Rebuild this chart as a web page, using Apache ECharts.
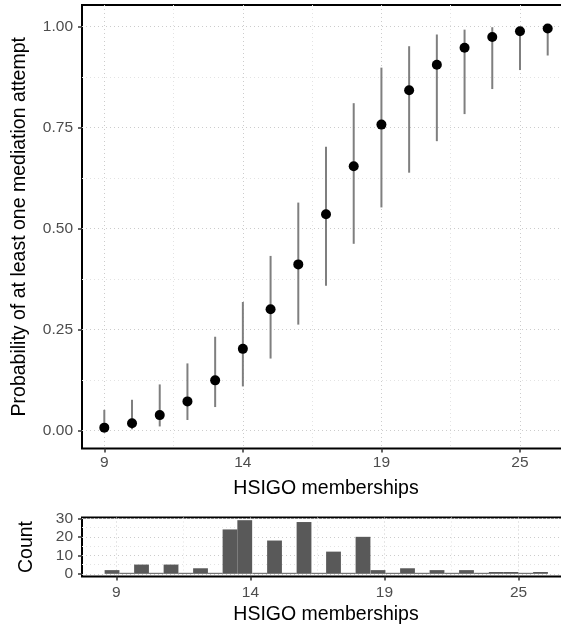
<!DOCTYPE html>
<html>
<head>
<meta charset="utf-8">
<script src="https://cdn.jsdelivr.net/npm/echarts@6/dist/echarts.min.js"></script>
<style>
html, body { margin: 0; padding: 0; background: #fff; }
#main { width: 561px; height: 628px; }
</style>
</head>
<body>
<div id="main"></div>
<script>
// predicted probability by number of memberships, with intervals
var memberships = [9, 10, 11, 12, 13, 14, 15, 16, 17, 18, 19, 20, 21, 22, 23, 24, 25];
var prob  = [0.007, 0.018, 0.038, 0.072, 0.124, 0.202, 0.300, 0.411, 0.535, 0.654, 0.757, 0.842, 0.905, 0.947, 0.974, 0.988, 0.995];
var lower = [0.001, 0.003, 0.010, 0.026, 0.058, 0.109, 0.178, 0.262, 0.358, 0.462, 0.552, 0.638, 0.716, 0.783, 0.845, 0.892, 0.928];
var upper = [0.051, 0.076, 0.114, 0.166, 0.232, 0.318, 0.432, 0.564, 0.702, 0.810, 0.898, 0.951, 0.980, 0.992, 0.998, 0.999, 1.000];

// histogram bins (centres) and counts
var binCenters = [8.84, 9.39, 9.94, 10.49, 11.04, 11.59, 12.14, 12.69, 13.24, 13.79,
                  14.35, 14.90, 15.45, 16.00, 16.55, 17.10, 17.65, 18.20, 18.76, 19.31,
                  19.86, 20.41, 20.96, 21.51, 22.06, 22.62, 23.17, 23.72, 24.27, 24.82];
var counts = [2, 0, 5, 0, 5, 0, 3, 0, 24, 29,
              0, 18, 0, 28, 0, 12, 0, 20, 2, 0,
              3, 0, 2, 0, 2, 0, 1, 1, 0, 1];

// tick positions and labels
var xTicks = [9, 14, 19, 24];
var xTickLabels = ['9', '14', '19', '25'];
var xMinor = [11.5, 16.5, 21.5];
var probTicks = [0, 0.25, 0.5, 0.75, 1];
var probTickLabels = ['0.00', '0.25', '0.50', '0.75', '1.00'];
var probMinor = [0.125, 0.375, 0.625, 0.875];
var countTicks = [0, 10, 20, 30];
var countMinor = [5, 15, 25];

var FONT = 'Liberation Sans, Arial, Helvetica, sans-serif';
var tickLabel = { color: '#4d4d4d', fontSize: 15.5, fontFamily: FONT };
var titleText = { color: '#000', fontSize: 19.5, fontFamily: FONT };
var majorGrid = { show: true, lineStyle: { color: '#cccccc', width: 1, type: [1, 3] } };
var minorGrid = { show: true, lineStyle: { color: '#e3e3e3', width: 1, type: [1, 3] } };
var tick = { show: true, length: 4, lineStyle: { color: '#333', width: 1.5 } };
var noLine = { show: false, onZero: false };

function xLabel(v) {
  var i = xTicks.indexOf(v);
  return i < 0 ? '' : xTickLabels[i];
}
function probLabel(v) {
  var i = probTicks.indexOf(v);
  return i < 0 ? '' : probTickLabels[i];
}

// main (visible) axis + a hidden one carrying the minor grid lines
function mainX(grid, min, max, margin, gap) {
  return {
    type: 'value', gridIndex: grid, min: min, max: max, position: 'bottom',
    name: 'HSIGO memberships', nameLocation: 'middle', nameGap: gap, nameTextStyle: titleText,
    axisLine: noLine,
    axisTick: Object.assign({ customValues: xTicks }, tick),
    axisLabel: Object.assign({ customValues: xTicks, formatter: xLabel, margin: margin }, tickLabel),
    splitLine: majorGrid
  };
}
function minorX(grid, min, max) {
  return {
    type: 'value', gridIndex: grid, min: min, max: max, position: 'top',
    axisLine: noLine,
    axisTick: { show: false, customValues: xMinor },
    axisLabel: { show: false, customValues: xMinor },
    splitLine: minorGrid
  };
}

var chart = echarts.init(document.getElementById('main'));
chart.setOption({
  animation: false,
  backgroundColor: '#fff',
  grid: [
    { left: 82, top: 5, width: 488, height: 443.5, outerBoundsMode: 'none', containLabel: false,
      show: true, borderColor: '#000', borderWidth: 2, backgroundColor: 'transparent' },
    { left: 82, top: 517.5, width: 488, height: 59, outerBoundsMode: 'none', containLabel: false,
      show: true, borderColor: '#000', borderWidth: 2, backgroundColor: 'transparent' }
  ],
  xAxis: [
    mainX(0, 8.195, 25.805, 6, 30),
    minorX(0, 8.195, 25.805),
    mainX(1, 7.72, 25.92, 8, 28),
    minorX(1, 7.72, 25.92)
  ],
  yAxis: [
    {
      type: 'value', gridIndex: 0, min: -0.0446, max: 1.053, position: 'left',
      name: 'Probability of at least one mediation attempt', nameLocation: 'middle', nameGap: 52,
      nameTextStyle: titleText,
      axisLine: noLine,
      axisTick: Object.assign({ customValues: probTicks }, tick),
      axisLabel: Object.assign({ customValues: probTicks, formatter: probLabel, margin: 9 }, tickLabel),
      splitLine: majorGrid
    },
    {
      type: 'value', gridIndex: 0, min: -0.0446, max: 1.053, position: 'right',
      axisLine: noLine,
      axisTick: { show: false, customValues: probMinor },
      axisLabel: { show: false, customValues: probMinor },
      splitLine: minorGrid
    },
    {
      type: 'value', gridIndex: 1, min: -1.45, max: 30.45, position: 'left',
      name: 'Count', nameLocation: 'middle', nameGap: 45, nameTextStyle: titleText,
      axisLine: noLine,
      axisTick: Object.assign({ customValues: countTicks }, tick),
      axisLabel: Object.assign({ customValues: countTicks, margin: 9 }, tickLabel),
      splitLine: majorGrid
    },
    {
      type: 'value', gridIndex: 1, min: -1.45, max: 30.45, position: 'right',
      axisLine: noLine,
      axisTick: { show: false, customValues: countMinor },
      axisLabel: { show: false, customValues: countMinor },
      splitLine: minorGrid
    }
  ],
  series: [
    {
      type: 'custom',
      xAxisIndex: 0, yAxisIndex: 0,
      data: memberships.map(function (m, i) { return [m, lower[i], upper[i]]; }),
      encode: { x: 0, y: [1, 2] },
      renderItem: function (params, api) {
        var lo = api.coord([api.value(0), api.value(1)]);
        var hi = api.coord([api.value(0), api.value(2)]);
        return {
          type: 'line',
          shape: { x1: lo[0], y1: lo[1], x2: hi[0], y2: hi[1] },
          style: { stroke: '#7f7f7f', lineWidth: 2 }
        };
      },
      z: 3
    },
    {
      type: 'scatter',
      xAxisIndex: 0, yAxisIndex: 0,
      data: memberships.map(function (m, i) { return [m, prob[i]]; }),
      symbolSize: 10,
      itemStyle: { color: '#000', opacity: 1 },
      z: 4
    },
    {
      type: 'bar',
      xAxisIndex: 2, yAxisIndex: 2,
      data: binCenters.map(function (c, i) { return [c, counts[i]]; }),
      barWidth: 14.8,
      barMinHeight: 1,
      itemStyle: { color: '#595959' },
      z: 3
    }
  ]
});
</script>
</body>
</html>
